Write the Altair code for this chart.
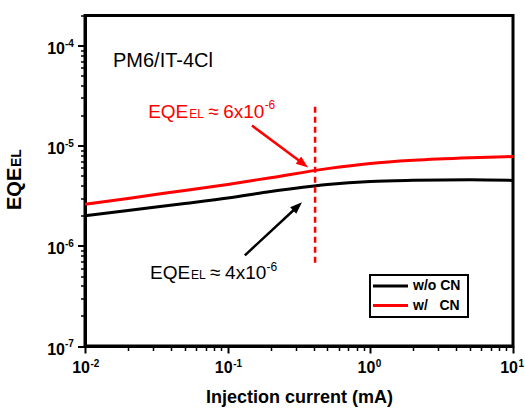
import math
import altair as alt
import pandas as pd

# ---------------- data ----------------
series_names = ["w/o CN", "w/ CN"]
series_colors = ["#000000", "#FF0000"]

x_black = [0.01, 0.02, 0.05, 0.1, 0.2, 0.5, 1, 2, 5, 10]
y_black = [2.0e-6, 2.26e-6, 2.65e-6, 3.0e-6, 3.49e-6, 4.10e-6, 4.40e-6, 4.52e-6, 4.58e-6, 4.51e-6]

x_red = [0.01, 0.02, 0.05, 0.1, 0.2, 0.5, 1, 2, 5, 10]
y_red = [2.60e-6, 2.98e-6, 3.58e-6, 4.11e-6, 4.80e-6, 5.91e-6, 6.66e-6, 7.16e-6, 7.59e-6, 7.81e-6]

# dashed marker line
marker_x = [0.41]
marker_y = [2.45e-5]
marker_y2 = [6.8e-7]

# arrows: start -> tip
arrow_x0 = [0.148, 0.132]
arrow_y0 = [1.59e-5, 8.05e-7]
arrow_x1 = [0.366, 0.332]
arrow_y1 = [6.08e-6, 2.72e-6]
arrow_colors = ["#FF0000", "#000000"]

# annotation anchors
label_x = [0.0277, 0.0286]
label_y = [1.91e-5, 4.65e-7]
label_vals = ["6x10", "4x10"]
label_colors = ["#FF0000", "#000000"]

title_text = "PM6/IT-4Cl"
title_x = [0.0157]
title_y = [6.08e-5]

x_major = [0.01, 0.1, 1, 10]
x_major_exp = ["-2", "-1", "0", "1"]
y_major = [1e-7, 1e-6, 1e-5, 1e-4]
y_major_exp = ["-7", "-6", "-5", "-4"]

# ---------------- layout / style ----------------
W, H = 428, 330.5
XDOM = [0.01, 10]
YDOM = [1e-7, 2e-4]
FONT = "Liberation Sans"

xs = alt.Scale(type="log", domain=XDOM, nice=False)
ys = alt.Scale(type="log", domain=YDOM, nice=False)

major_test = "abs(log(datum.value)/LN10 - round(log(datum.value)/LN10)) < 0.001"
x_ticks = [round(m * 10 ** e, 6) for e in (-2, -1, 0) for m in range(1, 10)] + [10]
y_ticks = [m * 10.0 ** e for e in (-7, -6, -5) for m in range(1, 10)] + [1e-4, 2e-4]
y_ticks = [v for v in y_ticks if v <= 2e-4 + 1e-12]

x_axis = alt.Axis(
    values=x_ticks, labels=False, grid=False,
    domainColor="black", domainWidth=3, tickColor="black",
    tickSize={"condition": {"test": major_test, "value": 7}, "value": 4.5},
    tickWidth={"condition": {"test": major_test, "value": 2}, "value": 1.5},
    title="Injection current (mA)", titleFont=FONT, titleFontSize=18,
    titleFontWeight="bold", titleColor="black", titleY=56.5,
    titleBaseline="alphabetic",
)
y_axis = alt.Axis(
    values=y_ticks, labels=False, grid=False,
    domainColor="black", domainWidth=3, tickColor="black",
    tickSize={"condition": {"test": major_test, "value": 7.5}, "value": 4.5},
    tickWidth={"condition": {"test": major_test, "value": 2}, "value": 1.5},
    title=None,
)

X = lambda f="current": alt.X(f + ":Q", scale=xs, axis=x_axis)
Y = lambda f="eqe": alt.Y(f + ":Q", scale=ys, axis=y_axis)

layers = []

# curves
df = pd.DataFrame({
    "current": x_black + x_red,
    "eqe": y_black + y_red,
    "series": [series_names[0]] * len(x_black) + [series_names[1]] * len(x_red),
})
layers.append(
    alt.Chart(df).mark_line(strokeWidth=3, interpolate="monotone").encode(
        x=X(), y=Y(),
        color=alt.Color("series:N", scale=alt.Scale(domain=series_names, range=series_colors), legend=None),
    )
)

# dashed vertical marker
dm = pd.DataFrame({"current": marker_x, "eqe": marker_y, "eqe2": marker_y2})
layers.append(
    alt.Chart(dm).mark_rule(color="#FF0000", strokeWidth=2.5, strokeDash=[6, 4]).encode(
        x=X(), y=Y(), y2="eqe2:Q"
    )
)

# arrows
def px(v):
    return (math.log10(v) - math.log10(XDOM[0])) / (math.log10(XDOM[1]) - math.log10(XDOM[0])) * W

def py(v):
    return (math.log10(YDOM[1]) - math.log10(v)) / (math.log10(YDOM[1]) - math.log10(YDOM[0])) * H

HEAD = 12
for x0, y0, x1, y1, c in zip(arrow_x0, arrow_y0, arrow_x1, arrow_y1, arrow_colors):
    dxp, dyp = px(x1) - px(x0), py(y1) - py(y0)
    length = math.hypot(dxp, dyp)
    f = 1 - (HEAD * 0.6) / length
    xs_end = 10 ** (math.log10(x0) + f * (math.log10(x1) - math.log10(x0)))
    ys_end = 10 ** (math.log10(y0) + f * (math.log10(y1) - math.log10(y0)))
    ang = math.degrees(math.atan2(dyp, dxp)) % 360
    da = pd.DataFrame({"current": [x0], "eqe": [y0], "current2": [xs_end], "eqe2": [ys_end]})
    layers.append(
        alt.Chart(da).mark_rule(color=c, strokeWidth=2.5).encode(
            x=X(), y=Y(), x2="current2:Q", y2="eqe2:Q"
        )
    )
    dh = pd.DataFrame({"current": [x1], "eqe": [y1]})
    layers.append(
        alt.Chart(dh).mark_point(
            shape="M0,0L-2,-0.75L-2,0.75Z", filled=True, size=HEAD * HEAD,
            angle=ang, color=c, opacity=1, strokeWidth=0,
        ).encode(x=X(), y=Y())
    )

# annotations EQE_EL ≈ ...
BIG, SMALL = 19, 12
for lx, ly, val, c in zip(label_x, label_y, label_vals, label_colors):
    dl = pd.DataFrame({"current": [lx], "eqe": [ly]})
    pieces = [
        ("EQE", BIG, 0, 0),
        ("EL", SMALL, 41, 0),
        ("\u2248", BIG, 60, 0),
        (val, BIG, 75, 0),
        ("-6", SMALL, 116.5, -8.5),
    ]
    for txt, size, dx, dy in pieces:
        layers.append(
            alt.Chart(dl).mark_text(
                text=txt, font=FONT, fontSize=size, color=c, align="left",
                baseline="alphabetic", dx=dx, dy=dy,
            ).encode(x=X(), y=Y())
        )

# PM6/IT-4Cl
dt = pd.DataFrame({"current": title_x, "eqe": title_y})
layers.append(
    alt.Chart(dt).mark_text(
        text=title_text, font=FONT, fontSize=20, color="black", align="left", baseline="alphabetic"
    ).encode(x=X(), y=Y())
)

# x tick labels 10^n
dxl = pd.DataFrame({"current": x_major, "exp": x_major_exp})
layers.append(
    alt.Chart(dxl).mark_text(
        text="10", font=FONT, fontSize=16, fontWeight="bold", color="black",
        align="right", baseline="alphabetic", dx=5,
    ).encode(x=X(), y=alt.value(H + 27))
)
layers.append(
    alt.Chart(dxl).mark_text(
        font=FONT, fontSize=10, fontWeight="bold", color="black",
        align="left", baseline="alphabetic", dx=5.5,
    ).encode(x=X(), y=alt.value(H + 21), text="exp:N")
)

# y tick labels 10^n
dyl = pd.DataFrame({"eqe": y_major, "exp": y_major_exp})
layers.append(
    alt.Chart(dyl).mark_text(
        text="10", font=FONT, fontSize=16, fontWeight="bold", color="black",
        align="right", baseline="alphabetic", dy=8.5,
    ).encode(y=Y(), x=alt.value(-20))
)
layers.append(
    alt.Chart(dyl).mark_text(
        font=FONT, fontSize=10, fontWeight="bold", color="black",
        align="left", baseline="alphabetic", dy=1,
    ).encode(y=Y(), x=alt.value(-20), text="exp:N")
)

# y-axis title EQE_EL (rotated)
yt = pd.DataFrame({"k": [0]})
layers.append(
    alt.Chart(yt).mark_text(
        text="EQE", font=FONT, fontSize=20, fontWeight="bold", color="black",
        align="left", baseline="alphabetic", angle=270,
    ).encode(x=alt.value(-64), y=alt.value(194.5))
)
layers.append(
    alt.Chart(yt).mark_text(
        text="EL", font=FONT, fontSize=14, fontWeight="bold", color="black",
        align="left", baseline="alphabetic", angle=270,
    ).encode(x=alt.value(-64), y=alt.value(151.5))
)

# legend (drawn box)
layers.append(
    alt.Chart(yt).mark_rect(fill="white", stroke="black", strokeWidth=2).encode(
        x=alt.value(285), x2=alt.value(383), y=alt.value(259.5), y2=alt.value(301.5)
    )
)
legend_labels = ["w/o CN", "w/\u00a0\u00a0\u00a0CN"]
row_y = [270.5, 290.0]
for name, col, ry in zip(legend_labels, series_colors, row_y):
    layers.append(
        alt.Chart(yt).mark_rule(color=col, strokeWidth=3).encode(
            x=alt.value(288), x2=alt.value(323), y=alt.value(ry)
        )
    )
    layers.append(
        alt.Chart(yt).mark_text(
            text=name, font=FONT, fontSize=14, fontWeight="bold", color="black",
            align="left", baseline="middle",
        ).encode(x=alt.value(328), y=alt.value(ry))
    )

chart = alt.layer(*layers).properties(
    width=W, height=H,
    autosize=alt.AutoSizeParams(type="none"),
    padding={"left": 85, "top": 15.5, "right": 12, "bottom": 62},
    background="white",
).configure_view(stroke="black", strokeWidth=3)

chart.save("out.html", embed_options={"renderer": "svg", "actions": False})
